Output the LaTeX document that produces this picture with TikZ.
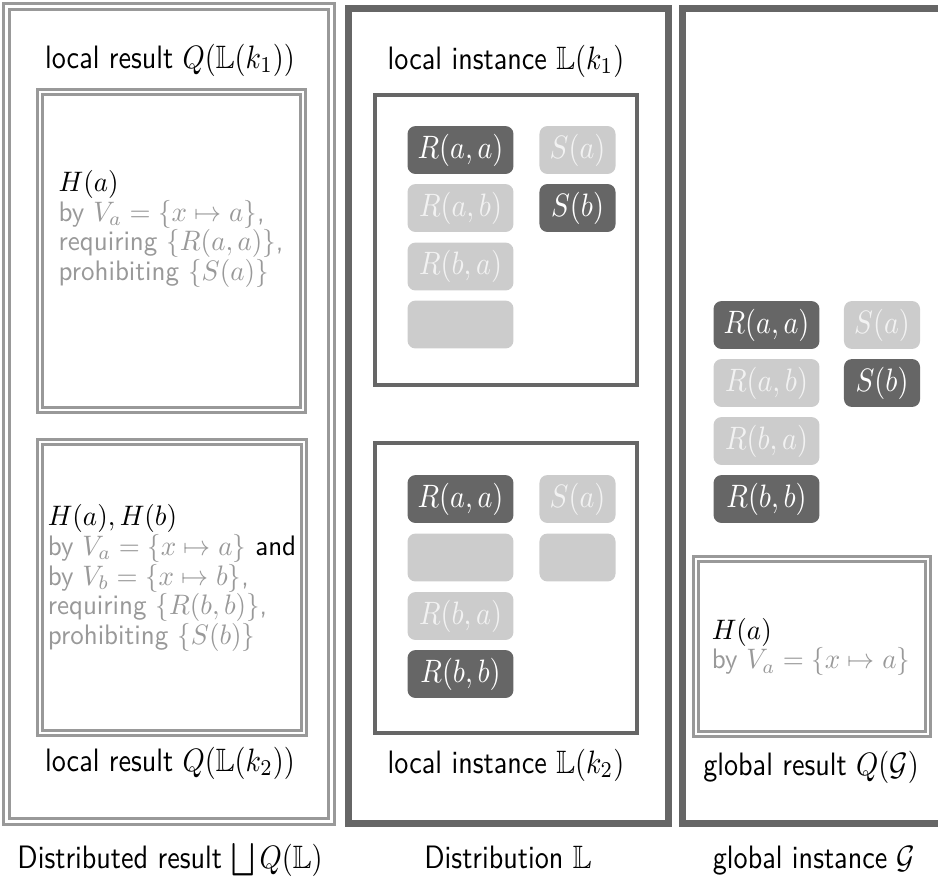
\documentclass[tikz,border=0pt]{standalone}
\usepackage{amssymb}
\usepackage{graphicx}
\definecolor{dk}{HTML}{666666}
\definecolor{lt}{HTML}{CCCCCC}
\definecolor{dbl}{HTML}{999999}
\definecolor{txg}{HTML}{999999}
\definecolor{ltx}{HTML}{F2F2F2}
\newcommand{\vs}[1]{\scalebox{1}[1.15]{#1}}
\newcommand{\txtlines}[1]{\scalebox{0.96}[1.0]{\vbox{\baselineskip=10.6pt\lineskiplimit=-\maxdimen\lineskip=0pt #1}}}
\begin{document}
\begin{tikzpicture}[x=0.355pt,y=-0.355pt,
  every node/.style={font=\sffamily, inner sep=0pt},
  ttl/.style={anchor=base},
  blk/.style={},
  fact/.style={rounded corners=2.8pt, minimum height=17pt, text height=8.6pt, text depth=2.9pt},
  rw/.style={minimum width=37.6pt},
  sw/.style={minimum width=27pt},
  dkf/.style={fact, fill=dk, text=white},
  ltf/.style={fact, fill=lt, text=ltx},
  outerdbl/.style={draw=dbl, double=white, line width=1.07pt, double distance=1.07pt},
  innerdbl/.style={draw=dbl, double=white, line width=0.85pt, double distance=0.85pt},
  thickbox/.style={draw=dk, line width=2.5pt},
  instbox/.style={draw=dk, line width=1.42pt}
]
\useasboundingbox (0,0) rectangle (938,882);
\clip (0,0) rectangle (938,882);

% ---------- left column ----------
\draw[outerdbl] (6.8,6.5) rectangle (331.5,821);
\draw[innerdbl] (40,92) rectangle (303,410);
\draw[innerdbl] (40,442) rectangle (304,733);
\node[ttl] (t1) at (170,68) {\vs{local result $Q(\mathbb{L}(k_1))$}};
\node[blk] (r1) at (171,229) {\txtlines{\hbox{$H(a)$}
  \hbox{\textcolor{txg}{by $V_a=\{x\mapsto a\}$,}}
  \hbox{\textcolor{txg}{requiring $\{R(a,a)\}$,}}
  \hbox{\textcolor{txg}{prohibiting $\{S(a)\}$}}}};
\node[blk] (r2) at (172,578) {\txtlines{\hbox{$H(a),H(b)$}
  \hbox{\textcolor{txg}{by $V_a=\{x\mapsto a\}$} and}
  \hbox{\textcolor{txg}{by $V_b=\{x\mapsto b\}$,}}
  \hbox{\textcolor{txg}{requiring $\{R(b,b)\}$,}}
  \hbox{\textcolor{txg}{prohibiting $\{S(b)\}$}}}};
\node[ttl] (t2) at (170,771) {\vs{local result $Q(\mathbb{L}(k_2))$}};

% ---------- middle column ----------
\draw[thickbox] (348.5,8.5) rectangle (668.5,823.5);
\node[ttl] (t3) at (506,69) {\vs{local instance $\mathbb{L}(k_1)$}};
\draw[instbox] (375,95) rectangle (637,385);
\node[dkf,rw] (m1raa) at (460.5,150) {\vs{$R(a,a)$}};
\node[ltf,sw] (m1sa) at (577.5,150) {\vs{$S(a)$}};
\node[ltf,rw] (m1rab) at (460.5,208) {\vs{$R(a,b)$}};
\node[dkf,sw] (m1sb) at (577.5,208) {\vs{$S(b)$}};
\node[ltf,rw] (m1rba) at (460.5,266.5) {\vs{$R(b,a)$}};
\node[ltf,rw] (m1rbb) at (460.5,324.5) {};

\draw[instbox] (375,443) rectangle (637,733);
\node[dkf,rw] (m2raa) at (460.5,499) {\vs{$R(a,a)$}};
\node[ltf,sw] (m2sa) at (577.5,499) {\vs{$S(a)$}};
\node[ltf,rw] (m2rab) at (460.5,557.5) {};
\node[ltf,sw] (m2sb) at (577.5,557.5) {};
\node[ltf,rw] (m2rba) at (460.5,616) {\vs{$R(b,a)$}};
\node[dkf,rw] (m2rbb) at (460.5,674) {\vs{$R(b,b)$}};
\node[ttl] (t4) at (506,773) {\vs{local instance $\mathbb{L}(k_2)$}};

% ---------- right column ----------
\draw[thickbox] (682.5,8.5) rectangle (1000,823.5);
\node[dkf,rw] (graa) at (766.5,325) {\vs{$R(a,a)$}};
\node[ltf,sw] (gsa) at (882,325) {\vs{$S(a)$}};
\node[ltf,rw] (grab) at (766.5,383) {\vs{$R(a,b)$}};
\node[dkf,sw] (gsb) at (882,383) {\vs{$S(b)$}};
\node[ltf,rw] (grba) at (766.5,441) {\vs{$R(b,a)$}};
\node[dkf,rw] (grbb) at (766.5,499) {\vs{$R(b,b)$}};
\draw[innerdbl] (696,559) rectangle (928,734);
\node[blk] (gr) at (811,647) {\txtlines{\hbox{$H(a)$}
  \hbox{\textcolor{txg}{by $V_a=\{x\mapsto a\}$}}}};
\node[ttl] (t5) at (811,775) {\vs{global result $Q(\mathcal{G})$}};

% ---------- captions ----------
\node[ttl] (c1) at (170,868) {\vs{Distributed result $\bigsqcup Q(\mathbb{L})$}};
\node[ttl] (c2) at (508,868) {\vs{Distribution $\mathbb{L}$}};
\node[ttl] (c3) at (814,868) {\vs{global instance $\mathcal{G}$}};
\end{tikzpicture}
\end{document}
